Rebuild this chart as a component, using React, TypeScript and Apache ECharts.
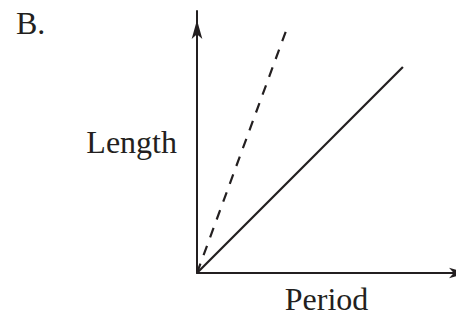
import React, { useEffect, useRef } from "react";
import * as echarts from "echarts";

const panelLabel = "B.";
const xAxisName = "Period";
const yAxisName = "Length";
const solidPeriod = [0, 7.95];
const solidLength = [0, 7.86];
const dashedPeriod = [0, 3.44];
const dashedLength = [0, 9.25];

const INK = "#231f20";
const FONT = "'Liberation Serif', 'Times New Roman', serif";

export default function App() {
  const ref = useRef<HTMLDivElement>(null);
  useEffect(() => {
    if (!ref.current) return;
    const chart = echarts.init(ref.current, undefined, { renderer: "svg" });
    const axisCommon = {
      type: "value" as const,
      min: 0,
      max: 10,
      axisTick: { show: false },
      axisLabel: { show: false },
      splitLine: { show: false },
      nameLocation: "middle" as const,
      nameTextStyle: { fontSize: 32, fontFamily: FONT, color: INK },
    };
    chart.setOption({
      animation: false,
      backgroundColor: "#ffffff",
      title: {
        text: panelLabel,
        left: 16,
        top: 7,
        padding: 0,
        textStyle: { fontSize: 32, fontWeight: "normal", fontFamily: FONT, color: INK },
      },
      grid: { left: 197, right: 0, top: 11, bottom: 43 },
      xAxis: {
        ...axisCommon,
        name: xAxisName,
        nameGap: 10,
        axisLine: {
          show: true,
          lineStyle: { color: INK, width: 2 },
          symbol: ["none", "arrow"],
          symbolSize: [8, 19],
          symbolOffset: [0, 12],
        },
      },
      yAxis: {
        ...axisCommon,
        name: yAxisName,
        nameGap: 20,
        nameRotate: 0,
        axisLine: {
          show: true,
          lineStyle: { color: INK, width: 2 },
          symbol: ["none", "arrow"],
          symbolSize: [8, 19],
          symbolOffset: [0, -9],
        },
      },
      series: [
        {
          type: "line",
          data: solidPeriod.map((p, i) => [p, solidLength[i]]),
          symbol: "none",
          lineStyle: { color: INK, width: 2.2 },
        },
        {
          type: "line",
          data: dashedPeriod.map((p, i) => [p, dashedLength[i]]),
          symbol: "none",
          lineStyle: { color: INK, width: 2.2, type: [10, 9] },
        },
      ],
    });
    return () => chart.dispose();
  }, []);
  return (
    <div
      ref={ref}
      style={{ position: "fixed", left: 0, top: 0, width: 456, height: 320, background: "#fff" }}
    />
  );
}
